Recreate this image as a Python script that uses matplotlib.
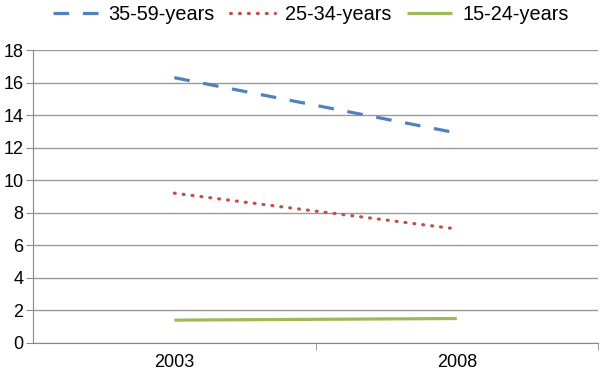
import matplotlib.pyplot as plt
import numpy as np

plt.rcParams['font.family'] = ['Liberation Sans', 'DejaVu Sans']

years = ['2003', '2008']
series_names = ['35-59-years', '25-34-years', '15-24-years']
age_35_59 = [16.3, 12.9]
age_25_34 = [9.2, 7.0]
age_15_24 = [1.4, 1.5]

colors = ['#4F81BD', '#C0504D', '#9BBB59']
styles = [(0, (4.9, 4.3)), (0, (0.3, 2.5)), '-']

fig = plt.figure(figsize=(6, 3.76), dpi=100)
ax = fig.add_axes([0.055, 0.088, 0.942, 0.779])

x = np.arange(len(years))
for vals, name, c, ls in zip([age_35_59, age_25_34, age_15_24], series_names, colors, styles):
    cap = 'round' if name == '25-34-years' else 'butt'
    ax.plot(x, vals, color=c, linestyle=ls, linewidth=2.3, label=name,
            dash_capstyle=cap, solid_capstyle='butt')

ax.set_xlim(-0.5, 1.5)
ax.set_ylim(0, 18)
ax.set_yticks(np.arange(0, 19, 2))
ax.set_xticks(x)
ax.set_xticklabels(years)
ax.set_xticks([0.5, 1.5], minor=True)
ax.tick_params(axis='x', which='major', length=0, pad=8, labelsize=13)
ax.tick_params(axis='x', which='minor', length=5, color='#888888', direction='out')
ax.tick_params(axis='y', length=5, color='#888888', labelsize=13, pad=2)
ax.grid(axis='y', color='#999999', linewidth=1)
ax.set_axisbelow(True)
for s in ['top', 'right']:
    ax.spines[s].set_visible(False)
for s in ['left', 'bottom']:
    ax.spines[s].set_color('#888888')

fig.legend(loc='upper center', bbox_to_anchor=(0.518, 1.035), ncol=3, frameon=False,
           fontsize=14.3, handlelength=2.3, columnspacing=0.75, handletextpad=0.5)

fig.savefig('out.png')
